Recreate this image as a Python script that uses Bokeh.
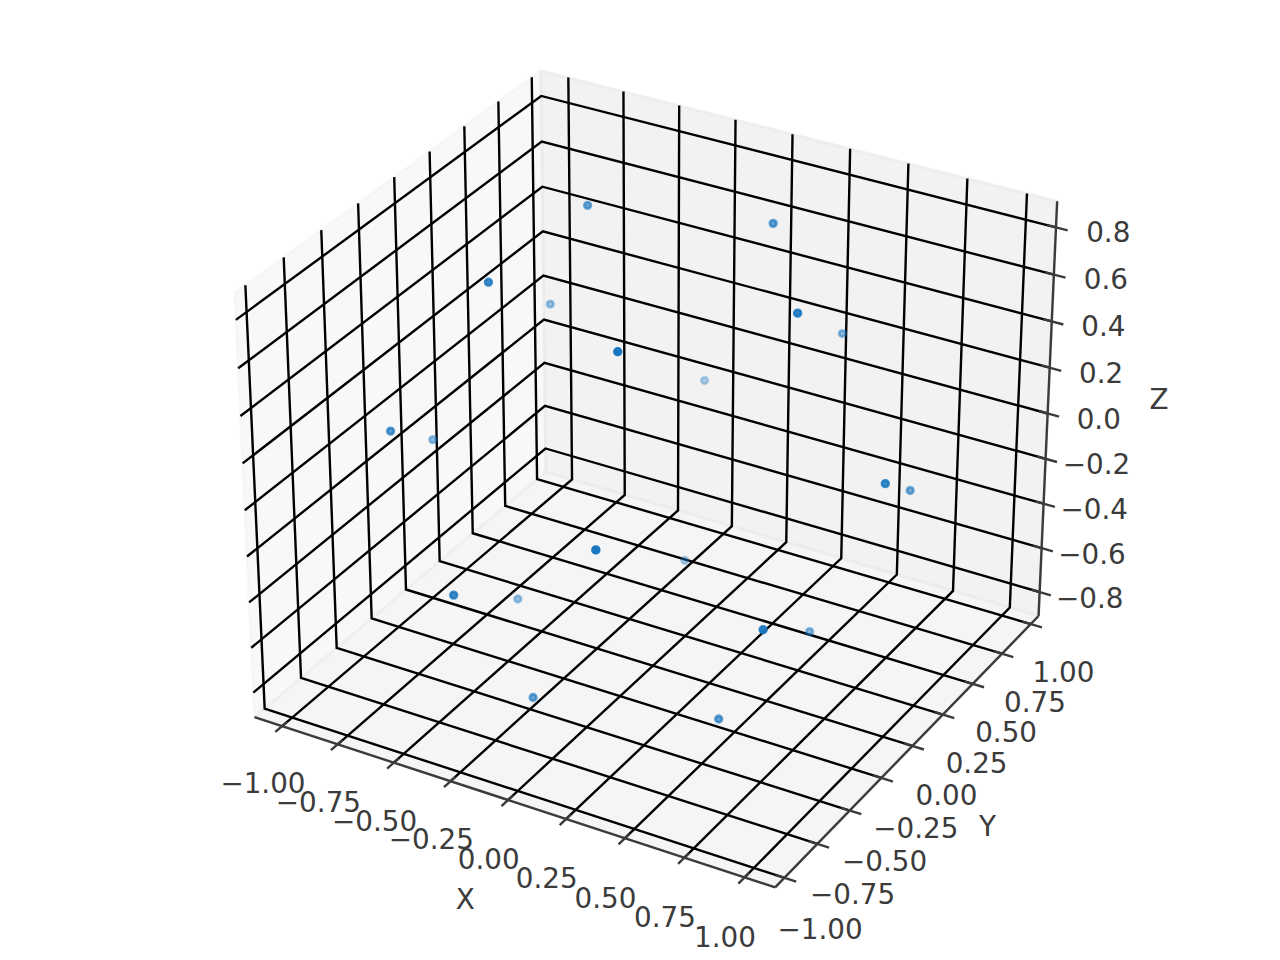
import numpy as np
from bokeh.plotting import figure
from bokeh.embed import file_html
from bokeh.resources import INLINE
from bokeh.core.properties import value

# Data values
point_x = [0.607, 0.188, -0.491, -0.491, 0.188,
           0.982, 0.304, -0.795, -0.795, 0.304,
           0.795, -0.304, -0.982, -0.304, 0.795,
           0.491, -0.188, -0.607, -0.188, 0.491]
point_y = [0.0, 0.577, 0.357, -0.357, -0.577,
           0.0, 0.934, 0.577, -0.577, -0.934,
           0.577, 0.934, 0.0, -0.934, -0.577,
           0.357, 0.577, 0.0, -0.577, -0.357]
point_z = [0.795] * 5 + [0.188] * 5 + [-0.188] * 5 + [-0.795] * 5

x_ticks = [-1.0, -0.75, -0.5, -0.25, 0.0, 0.25, 0.5, 0.75, 1.0]
y_ticks = [-1.0, -0.75, -0.5, -0.25, 0.0, 0.25, 0.5, 0.75, 1.0]
z_ticks = [-0.8, -0.6, -0.4, -0.2, 0.0, 0.2, 0.4, 0.6, 0.8]
x_tick_labels = ["\u22121.00", "\u22120.75", "\u22120.50", "\u22120.25", "0.00", "0.25", "0.50", "0.75", "1.00"]
y_tick_labels = list(x_tick_labels)
z_tick_labels = ["\u22120.8", "\u22120.6", "\u22120.4", "\u22120.2", "0.0", "0.2", "0.4", "0.6", "0.8"]

x_half, y_half, z_half = 1.1255, 1.0691, 0.9101

ELEV, AZIM, DIST = 30.0, -60.0, 10.0
UNIT = (0.5254, 0.5258, 0.5256)   # box units per data unit
SCALE, CENTER_X, CENTER_Y = 5059.47, 652.37, 460.56
INK = "#3b3b3b"
GRID = "#000000"
BLUE = "#1976c0"
FONT = "DejaVu Sans"
FONT_SIZE = "27.8px"

el, az = np.radians(ELEV), np.radians(AZIM)
W = np.array([np.cos(el) * np.cos(az), np.cos(el) * np.sin(az), np.sin(el)])
U = np.cross([0, 0, 1.0], W)
U /= np.linalg.norm(U)
V = np.cross(W, U)


def project(x, y, z):
    pts = np.vstack([np.asarray(x, float) * UNIT[0], np.asarray(y, float) * UNIT[1],
                     np.asarray(z, float) * UNIT[2]]).T - DIST * W
    depth = -(pts @ W)
    return (pts @ U) / depth, (pts @ V) / depth, -DIST / depth


def poly(points):
    xs, ys, _ = project(*zip(*points))
    return list(xs), list(ys)


p = figure(width=1280, height=960,
           x_range=((0 - CENTER_X) / SCALE, (1280 - CENTER_X) / SCALE),
           y_range=((CENTER_Y - 960) / SCALE, (CENTER_Y - 0) / SCALE),
           toolbar_location=None, output_backend="svg", min_border=0)
p.axis.visible = False
p.grid.visible = False
p.outline_line_color = None
p.background_fill_color = "white"

x0, x1 = -x_half, x_half
y0, y1 = -y_half, y_half
z0, z1 = -z_half, z_half
dx, dy, dz = 0.08 * (x1 - x0), 0.08 * (y1 - y0), 0.08 * (z1 - z0)

# Panes
panes = [
    ([(x0, y0, z0), (x0, y1, z0), (x0, y1, z1), (x0, y0, z1)], "#f2f2f2"),
    ([(x0, y1, z0), (x1, y1, z0), (x1, y1, z1), (x0, y1, z1)], "#e6e6e6"),
    ([(x0, y0, z0), (x1, y0, z0), (x1, y1, z0), (x0, y1, z0)], "#ececec"),
]
for pts, col in panes:
    xs, ys = poly(pts)
    p.patch(xs, ys, fill_color=col, fill_alpha=0.5, line_color=col, line_alpha=0.5, line_width=2.78)

# Grid lines
gx, gy = [], []
for t in x_ticks:
    a, b = poly([(t, y0, z0), (t, y1, z0), (t, y1, z1)])
    gx.append(a); gy.append(b)
for t in y_ticks:
    a, b = poly([(x1, t, z0), (x0, t, z0), (x0, t, z1)])
    gx.append(a); gy.append(b)
for t in z_ticks:
    a, b = poly([(x0, y0, t), (x0, y1, t), (x1, y1, t)])
    gx.append(a); gy.append(b)
p.multi_line(gx, gy, line_color=GRID, line_width=2.4, line_join="miter")

# Axis lines and tick marks
TICK_OUT, TICK_IN = 0.27, 0.2
ax_x, ax_y = [], []
for a, b in [((x0, y0, z0), (x1, y0, z0)), ((x1, y0, z0), (x1, y1, z0)), ((x1, y1, z0), (x1, y1, z1))]:
    s = poly([a, b])
    ax_x.append(s[0]); ax_y.append(s[1])
for t in x_ticks:
    s = poly([(t, y0 - TICK_OUT * dy, z0), (t, y0 + TICK_IN * dy, z0)])
    ax_x.append(s[0]); ax_y.append(s[1])
for t in y_ticks:
    s = poly([(x1 + TICK_OUT * dx, t, z0), (x1 - TICK_IN * dx, t, z0)])
    ax_x.append(s[0]); ax_y.append(s[1])
for t in z_ticks:
    s = poly([(x1 + TICK_OUT * dx, y1, t), (x1 - TICK_IN * dx, y1, t)])
    ax_x.append(s[0]); ax_y.append(s[1])
p.multi_line(ax_x, ax_y, line_color=INK, line_width=2.4)

# Tick labels
POINT_SCALE = 48.0 / (72.0 * 2 * 925 / 200.0)
tick_off = (3.5 + 8.0) * POINT_SCALE
label_off = (4.0 + 21.0) * POINT_SCALE


def put_text(xs, ys, zs, labels):
    a, b, _ = project(xs, ys, zs)
    p.text(list(a), list(b), text=labels, text_font=value(FONT), text_font_size=FONT_SIZE,
           text_color=INK, text_align="center", text_baseline="middle")


put_text(x_ticks, [y0 - tick_off * dy] * 9, [z0 - 0.175] * 9, x_tick_labels)
put_text([x1 + tick_off * dx] * 9, y_ticks, [z0 - 0.17] * 9, y_tick_labels)
put_text([x1 + tick_off * dx + 0.065] * 9, [y1] * 9, [t + 0.04 for t in z_ticks], z_tick_labels)

# Axis titles
put_text([0.0], [y0 - label_off * dy], [z0 - label_off * dz + 0.004], ["X"])
put_text([x1 + label_off * dx], [0.0], [z0 - label_off * dz + 0.01], ["Y"])
put_text([x1 + label_off * dx], [y1 + label_off * dy], [0.003], ["Z"])

# Points with depth shading
sx, sy, sz = project(point_x, point_y, point_z)
alpha = 1 - 0.7 * (sz - sz.min()) / (sz.max() - sz.min())
order = np.argsort(sz)[::-1]
p.scatter(list(sx[order]), list(sy[order]), marker="circle", size=6.6, fill_color=BLUE,
          line_color=BLUE, line_width=2.78,
          fill_alpha=list(alpha[order]), line_alpha=list(alpha[order]))

open("out.html", "w").write(file_html(p, INLINE))
